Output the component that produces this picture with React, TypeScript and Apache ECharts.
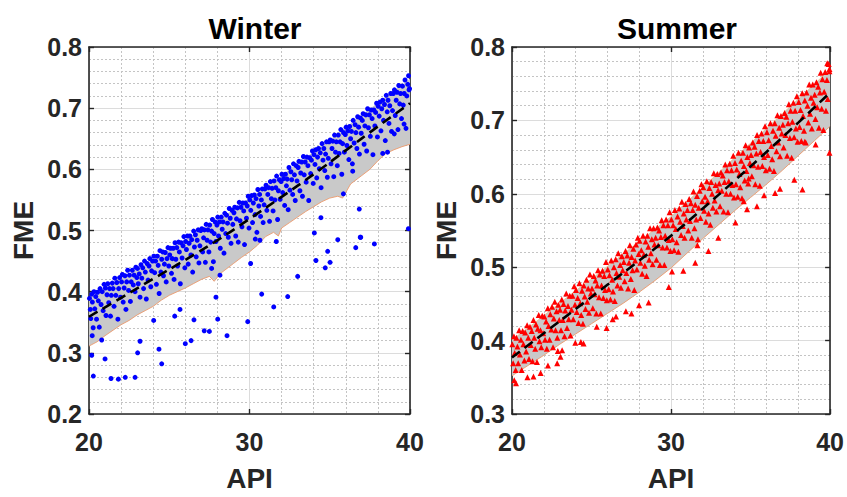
import React, { useEffect, useRef } from "react";
import * as echarts from "echarts";

// ---------- Winter data ----------
const winterPoints: number[][] = [
  [20.03,0.389],[20.08,0.371],[20.11,0.356],[20.17,0.396],[20.21,0.383],[20.26,0.341],[20.31,0.4],[20.36,0.372],[20.42,0.392],[20.47,0.355],[20.53,0.399],[20.58,0.385],[20.64,0.342],[20.69,0.405],[20.75,0.379],[20.82,0.4],[20.88,0.369],[20.94,0.412],
  [21.02,0.406],[21.06,0.361],[21.12,0.395],[21.17,0.413],[21.23,0.382],[21.28,0.405],[21.34,0.36],[21.39,0.394],[21.45,0.414],[21.5,0.405],[21.56,0.376],[21.61,0.422],[21.67,0.394],[21.73,0.415],[21.8,0.355],[21.85,0.405],[21.91,0.423],[21.97,0.391],
  [22.03,0.416],[22.08,0.428],[22.13,0.383],[22.19,0.406],[22.24,0.426],[22.3,0.371],[22.35,0.416],[22.41,0.435],[22.47,0.402],[22.52,0.427],[22.58,0.384],[22.63,0.416],[22.7,0.435],[22.76,0.411],[22.81,0.427],[22.87,0.4],[22.92,0.44],[22.98,0.423],
  [23.02,0.438],[23.07,0.413],[23.13,0.429],[23.18,0.391],[23.24,0.444],[23.29,0.422],[23.35,0.439],[23.4,0.405],[23.46,0.45],[23.51,0.432],[23.57,0.388],[23.62,0.446],[23.68,0.419],[23.74,0.442],[23.79,0.454],[23.85,0.408],[23.9,0.434],[23.96,0.45],
  [24.04,0.458],[24.09,0.431],[24.15,0.45],[24.2,0.412],[24.26,0.458],[24.31,0.443],[24.37,0.397],[24.42,0.467],[24.48,0.432],[24.53,0.453],[24.59,0.465],[24.64,0.426],[24.7,0.445],[24.75,0.464],[24.81,0.416],[24.86,0.454],[24.92,0.472],[24.97,0.442],
  [25.03,0.46],[25.08,0.471],[25.14,0.43],[25.19,0.454],[25.25,0.471],[25.3,0.42],[25.36,0.48],[25.41,0.453],[25.47,0.472],[25.52,0.442],[25.58,0.481],[25.63,0.465],[25.69,0.413],[25.74,0.48],[25.8,0.455],[25.86,0.475],[25.91,0.49],[25.97,0.439],
  [26.02,0.482],[26.07,0.469],[26.13,0.491],[26.18,0.445],[26.24,0.479],[26.29,0.491],[26.35,0.46],[26.4,0.485],[26.46,0.432],[26.52,0.499],[26.57,0.473],[26.63,0.493],[26.68,0.457],[26.74,0.484],[26.8,0.501],[26.85,0.447],[26.91,0.475],[26.96,0.5],
  [27.03,0.503],[27.08,0.465],[27.14,0.488],[27.19,0.501],[27.25,0.448],[27.3,0.51],[27.36,0.484],[27.41,0.501],[27.47,0.465],[27.52,0.509],[27.58,0.481],[27.64,0.499],[27.69,0.518],[27.75,0.449],[27.8,0.495],[27.86,0.514],[27.91,0.482],[27.97,0.509],
  [28.02,0.522],[28.07,0.491],[28.13,0.514],[28.18,0.471],[28.24,0.522],[28.3,0.502],[28.35,0.514],[28.41,0.463],[28.46,0.528],[28.52,0.495],[28.57,0.525],[28.63,0.512],[28.68,0.489],[28.74,0.536],[28.8,0.52],[28.85,0.479],[28.91,0.533],[28.96,0.51],
  [29.03,0.529],[29.08,0.538],[29.14,0.491],[29.19,0.519],[29.25,0.537],[29.3,0.481],[29.36,0.546],[29.41,0.516],[29.47,0.538],[29.53,0.506],[29.58,0.545],[29.64,0.532],[29.69,0.477],[29.75,0.545],[29.81,0.52],[29.86,0.54],[29.92,0.556],[29.97,0.504],
  [30.02,0.55],[30.08,0.533],[30.13,0.557],[30.19,0.513],[30.24,0.545],[30.3,0.558],[30.35,0.526],[30.41,0.552],[30.46,0.497],[30.52,0.567],[30.58,0.54],[30.63,0.559],[30.69,0.523],[30.74,0.55],[30.8,0.568],[30.85,0.513],[30.91,0.542],[30.96,0.568],
  [31.03,0.574],[31.08,0.533],[31.14,0.559],[31.19,0.57],[31.25,0.515],[31.3,0.58],[31.36,0.552],[31.41,0.569],[31.47,0.532],[31.53,0.581],[31.58,0.55],[31.64,0.57],[31.69,0.589],[31.75,0.518],[31.8,0.565],[31.86,0.583],[31.91,0.551],[31.97,0.58],
  [32.02,0.592],[32.07,0.562],[32.13,0.585],[32.19,0.541],[32.24,0.592],[32.3,0.573],[32.35,0.584],[32.41,0.534],[32.46,0.603],[32.52,0.566],[32.58,0.596],[32.63,0.583],[32.69,0.559],[32.74,0.609],[32.8,0.591],[32.85,0.549],[32.91,0.606],[32.96,0.581],
  [33.03,0.603],[33.08,0.613],[33.14,0.565],[33.19,0.594],[33.25,0.612],[33.3,0.556],[33.36,0.621],[33.41,0.591],[33.47,0.612],[33.53,0.579],[33.58,0.62],[33.64,0.606],[33.69,0.549],[33.75,0.619],[33.81,0.593],[33.86,0.615],[33.92,0.63],[33.97,0.577],
  [34.02,0.624],[34.08,0.608],[34.13,0.632],[34.19,0.586],[34.24,0.62],[34.3,0.634],[34.35,0.601],[34.41,0.627],[34.46,0.57],[34.52,0.642],[34.58,0.615],[34.63,0.634],[34.69,0.598],[34.74,0.625],[34.8,0.645],[34.85,0.587],[34.91,0.618],[34.96,0.645],
  [35.03,0.648],[35.08,0.609],[35.14,0.634],[35.19,0.646],[35.25,0.588],[35.3,0.656],[35.36,0.628],[35.41,0.645],[35.47,0.606],[35.53,0.656],[35.58,0.626],[35.64,0.645],[35.69,0.665],[35.75,0.592],[35.8,0.642],[35.86,0.66],[35.91,0.628],[35.97,0.657],
  [36.02,0.669],[36.07,0.639],[36.13,0.663],[36.19,0.616],[36.24,0.67],[36.3,0.65],[36.35,0.662],[36.41,0.609],[36.46,0.68],[36.52,0.643],[36.58,0.673],[36.63,0.66],[36.69,0.634],[36.74,0.686],[36.8,0.669],[36.85,0.625],[36.91,0.684],[36.96,0.659],
  [37.03,0.68],[37.08,0.691],[37.14,0.641],[37.19,0.671],[37.25,0.689],[37.3,0.63],[37.36,0.699],[37.41,0.668],[37.47,0.689],[37.53,0.654],[37.58,0.697],[37.64,0.683],[37.69,0.624],[37.75,0.697],[37.81,0.671],[37.86,0.693],[37.92,0.708],[37.97,0.653],
  [38.02,0.703],[38.08,0.687],[38.13,0.71],[38.19,0.663],[38.24,0.699],[38.3,0.713],[38.35,0.68],[38.41,0.706],[38.46,0.647],[38.52,0.721],[38.58,0.694],[38.63,0.713],[38.69,0.675],[38.74,0.704],[38.8,0.724],[38.85,0.662],[38.91,0.696],[38.96,0.724],
  [39.03,0.73],[39.08,0.688],[39.14,0.713],[39.19,0.726],[39.25,0.665],[39.3,0.737],[39.36,0.707],[39.41,0.724],[39.47,0.683],[39.53,0.736],[39.58,0.705],[39.64,0.724],[39.69,0.746],[39.75,0.667],[39.8,0.72],[39.86,0.739],[39.91,0.753],[39.97,0.732],
  // outliers below the band
  [20.17,0.296],[20.27,0.262],[21.0,0.29],[21.37,0.258],[21.83,0.257],[22.26,0.26],[22.87,0.26],[23.03,0.3],[23.18,0.319],[20.79,0.321],[20.2,0.328],
  [24.03,0.353],[24.36,0.306],[24.53,0.282],[25.34,0.36],[25.67,0.371],[26.0,0.315],[26.36,0.32],[26.54,0.354],[27.18,0.336],[27.5,0.335],
  [27.91,0.391],[28.02,0.355],[28.6,0.328],[29.89,0.351],[30.07,0.446],[30.76,0.396],[31.51,0.375],[32.38,0.392],[33.0,0.425],[34.14,0.451],
  [34.72,0.439],[35.02,0.448],[34.87,0.466],[35.5,0.485],[36.62,0.472],[36.9,0.489],[37.78,0.478],[31.67,0.482],[30.36,0.486],[30.65,0.484],
  [27.64,0.438],[28.16,0.427],[36.84,0.535],[36.43,0.597],[35.85,0.56],[34.45,0.521],[34.04,0.496],[36.93,0.489],[39.9,0.503],[39.63,0.674],
  [39.02,0.658],[38.3,0.626],[38.6,0.628],[39.94,0.73]
];

const winterLineX = [20, 22, 24, 26, 28, 30, 32, 34, 36, 38, 40];
const winterLineY = [0.359, 0.39, 0.421, 0.452, 0.484, 0.519, 0.555, 0.592, 0.631, 0.67, 0.708];

const winterBandX = [20,20.5,21,21.5,22,22.5,23,23.5,24,24.5,25,25.5,26,26.5,27,27.5,27.8,28.2,28.6,29,29.5,30,30.5,31,31.5,31.8,32,32.5,33,33.5,34,34.5,35,35.5,35.8,36.3,37,37.5,38,38.5,39,39.5,40];
const winterBandLower = [0.311,0.318,0.328,0.337,0.346,0.353,0.362,0.369,0.376,0.386,0.394,0.4,0.406,0.413,0.42,0.425,0.417,0.43,0.438,0.446,0.456,0.465,0.476,0.49,0.497,0.491,0.504,0.513,0.522,0.531,0.539,0.547,0.553,0.556,0.553,0.576,0.59,0.6,0.614,0.626,0.632,0.637,0.641];
const winterBandUpper = [0.391,0.399,0.406,0.414,0.422,0.43,0.437,0.445,0.453,0.461,0.469,0.477,0.485,0.493,0.501,0.509,0.514,0.52,0.527,0.535,0.544,0.553,0.562,0.572,0.581,0.586,0.59,0.6,0.61,0.619,0.629,0.639,0.648,0.659,0.665,0.675,0.689,0.699,0.709,0.719,0.729,0.738,0.748];

// ---------- Summer data ----------
const summerPoints: number[][] = [
  [20.02,0.395],[20.07,0.369],[20.12,0.406],[20.17,0.383],[20.23,0.36],[20.28,0.404],[20.34,0.392],[20.39,0.369],[20.45,0.414],[20.5,0.381],[20.56,0.401],[20.61,0.36],[20.67,0.413],[20.72,0.395],[20.78,0.373],[20.83,0.411],[20.89,0.385],[20.95,0.421],
  [21.02,0.404],[21.07,0.375],[21.13,0.419],[21.18,0.394],[21.24,0.413],[21.29,0.372],[21.35,0.428],[21.4,0.404],[21.46,0.389],[21.51,0.422],[21.57,0.371],[21.62,0.416],[21.68,0.435],[21.73,0.399],[21.79,0.414],[21.84,0.391],[21.9,0.434],[21.96,0.41],
  [22.03,0.433],[22.08,0.401],[22.14,0.426],[22.19,0.389],[22.25,0.444],[22.3,0.42],[22.36,0.401],[22.41,0.436],[22.47,0.415],[22.52,0.446],[22.58,0.391],[22.63,0.43],[22.69,0.453],[22.74,0.414],[22.8,0.44],[22.85,0.404],[22.91,0.449],[22.97,0.428],
  [23.02,0.442],[23.08,0.414],[23.13,0.456],[23.19,0.428],[23.24,0.45],[23.3,0.406],[23.35,0.441],[23.41,0.464],[23.46,0.417],[23.52,0.447],[23.57,0.429],[23.63,0.461],[23.68,0.407],[23.74,0.442],[23.8,0.461],[23.85,0.429],[23.91,0.474],[23.96,0.449],
  [24.02,0.469],[24.07,0.439],[24.13,0.458],[24.18,0.424],[24.24,0.478],[24.29,0.451],[24.35,0.435],[24.4,0.468],[24.46,0.423],[24.51,0.475],[24.57,0.46],[24.62,0.443],[24.68,0.483],[24.73,0.453],[24.79,0.471],[24.84,0.438],[24.9,0.49],[24.96,0.464],
  [25.03,0.471],[25.08,0.444],[25.14,0.488],[25.19,0.463],[25.25,0.482],[25.3,0.437],[25.36,0.475],[25.41,0.496],[25.47,0.459],[25.52,0.49],[25.58,0.437],[25.63,0.475],[25.69,0.495],[25.74,0.458],[25.8,0.488],[25.85,0.469],[25.91,0.507],[25.96,0.455],
  [26.02,0.497],[26.08,0.47],[26.13,0.489],[26.19,0.456],[26.24,0.509],[26.3,0.483],[26.35,0.467],[26.41,0.5],[26.46,0.454],[26.52,0.511],[26.57,0.492],[26.63,0.475],[26.68,0.519],[26.74,0.487],[26.8,0.503],[26.85,0.472],[26.91,0.515],[26.96,0.496],
  [27.03,0.507],[27.08,0.481],[27.14,0.522],[27.19,0.492],[27.25,0.516],[27.3,0.471],[27.36,0.506],[27.41,0.53],[27.47,0.484],[27.52,0.514],[27.58,0.496],[27.63,0.525],[27.69,0.469],[27.74,0.509],[27.8,0.531],[27.85,0.497],[27.91,0.54],[27.96,0.518],
  [28.02,0.536],[28.07,0.506],[28.13,0.523],[28.18,0.491],[28.24,0.543],[28.29,0.517],[28.35,0.502],[28.4,0.535],[28.46,0.488],[28.51,0.543],[28.57,0.528],[28.62,0.51],[28.68,0.553],[28.73,0.519],[28.79,0.538],[28.84,0.504],[28.9,0.553],[28.96,0.531],
  [29.03,0.54],[29.08,0.51],[29.14,0.554],[29.19,0.53],[29.25,0.55],[29.3,0.503],[29.36,0.541],[29.41,0.564],[29.47,0.527],[29.52,0.557],[29.58,0.503],[29.63,0.543],[29.69,0.565],[29.74,0.527],[29.8,0.557],[29.85,0.537],[29.91,0.575],[29.96,0.522],
  [30.02,0.565],[30.08,0.538],[30.13,0.557],[30.19,0.523],[30.24,0.578],[30.3,0.552],[30.35,0.534],[30.41,0.569],[30.46,0.521],[30.52,0.58],[30.57,0.562],[30.63,0.544],[30.68,0.589],[30.74,0.556],[30.8,0.573],[30.85,0.54],[30.91,0.586],[30.96,0.565],
  [31.03,0.578],[31.08,0.55],[31.14,0.593],[31.19,0.563],[31.25,0.587],[31.3,0.54],[31.36,0.578],[31.41,0.603],[31.47,0.553],[31.52,0.585],[31.58,0.565],[31.63,0.597],[31.69,0.538],[31.74,0.581],[31.8,0.604],[31.85,0.567],[31.91,0.613],[31.96,0.59],
  [32.03,0.609],[32.08,0.577],[32.14,0.596],[32.19,0.562],[32.25,0.617],[32.3,0.59],[32.36,0.573],[32.41,0.608],[32.47,0.558],[32.52,0.616],[32.58,0.6],[32.63,0.581],[32.69,0.628],[32.74,0.591],[32.8,0.612],[32.85,0.576],[32.91,0.627],[32.96,0.605],
  [33.03,0.614],[33.08,0.583],[33.14,0.629],[33.19,0.604],[33.25,0.625],[33.3,0.576],[33.36,0.616],[33.41,0.64],[33.47,0.6],[33.52,0.632],[33.58,0.575],[33.63,0.617],[33.69,0.641],[33.74,0.6],[33.8,0.632],[33.85,0.612],[33.91,0.652],[33.96,0.595],
  [34.02,0.642],[34.08,0.613],[34.13,0.633],[34.19,0.596],[34.24,0.656],[34.3,0.627],[34.35,0.609],[34.41,0.645],[34.46,0.594],[34.52,0.656],[34.58,0.638],[34.63,0.618],[34.69,0.666],[34.74,0.631],[34.8,0.65],[34.85,0.614],[34.91,0.663],[34.96,0.642],
  [35.03,0.653],[35.08,0.624],[35.14,0.67],[35.19,0.639],[35.25,0.664],[35.3,0.613],[35.36,0.655],[35.41,0.68],[35.47,0.637],[35.52,0.672],[35.58,0.611],[35.63,0.657],[35.69,0.682],[35.74,0.638],[35.8,0.672],[35.85,0.65],[35.91,0.692],[35.96,0.632],
  [36.03,0.684],[36.08,0.653],[36.14,0.673],[36.19,0.634],[36.25,0.696],[36.3,0.665],[36.36,0.647],[36.41,0.686],[36.47,0.631],[36.52,0.696],[36.58,0.679],[36.63,0.658],[36.69,0.707],[36.74,0.67],[36.8,0.69],[36.85,0.651],[36.91,0.706],[36.96,0.682],
  [37.03,0.694],[37.08,0.663],[37.14,0.71],[37.19,0.68],[37.25,0.705],[37.3,0.652],[37.36,0.696],[37.41,0.722],[37.47,0.676],[37.52,0.713],[37.58,0.649],[37.63,0.698],[37.69,0.724],[37.74,0.677],[37.8,0.713],[37.85,0.689],[37.91,0.733],[37.96,0.671],
  [38.03,0.725],[38.08,0.691],[38.14,0.714],[38.19,0.672],[38.25,0.737],[38.3,0.706],[38.36,0.686],[38.41,0.727],[38.47,0.67],[38.52,0.738],[38.58,0.72],[38.63,0.697],[38.69,0.749],[38.74,0.709],[38.8,0.731],[38.85,0.689],[38.91,0.749],[38.96,0.724],
  [39.03,0.735],[39.08,0.702],[39.14,0.752],[39.19,0.718],[39.25,0.746],[39.3,0.69],[39.36,0.738],[39.41,0.765],[39.47,0.716],[39.52,0.756],[39.58,0.687],[39.63,0.739],[39.69,0.766],[39.74,0.713],[39.8,0.755],[39.85,0.729],[39.91,0.777],[39.96,0.767],
  // outliers
  [20.25,0.342],[20.14,0.346],[20.97,0.35],[21.35,0.351],[21.8,0.356],[22.26,0.366],[22.84,0.369],[22.88,0.386],[23.05,0.378],[23.15,0.387],
  [23.98,0.397],[24.33,0.398],[24.5,0.396],[25.33,0.419],[25.95,0.417],[26.33,0.429],[26.54,0.433],[27.16,0.44],[27.51,0.437],[27.99,0.448],
  [28.59,0.452],[29.86,0.473],[30.06,0.494],[30.77,0.495],[31.52,0.506],[31.66,0.53],[32.35,0.522],[32.97,0.54],[34.05,0.561],[35.4,0.583],
  [34.78,0.579],[35.85,0.598],[36.54,0.601],[36.85,0.607],[37.75,0.619],[38.26,0.606],[39.96,0.656],[39.09,0.667],[38.41,0.671],[34.88,0.621],
  [34.57,0.59],[39.82,0.778],[39.96,0.77]
];

const summerLineX = [20, 22, 24, 26, 28, 30, 32, 34, 36, 38, 40];
const summerLineY = [0.377, 0.41, 0.443, 0.476, 0.509, 0.543, 0.58, 0.618, 0.657, 0.697, 0.738];

const summerBandX = [20,21,22,23,24,25,26,27,28,29,30,31,32,33,34,35,36,37,38,39,40];
const summerBandUpper = [0.401,0.417,0.434,0.451,0.468,0.484,0.501,0.518,0.535,0.552,0.569,0.589,0.609,0.629,0.649,0.669,0.689,0.709,0.729,0.749,0.77];
const summerBandLower = [0.352,0.366,0.38,0.395,0.409,0.423,0.437,0.451,0.466,0.482,0.499,0.519,0.539,0.558,0.577,0.595,0.613,0.632,0.652,0.672,0.692];

const FONT = "'Liberation Sans', Arial, Helvetica, sans-serif";
const TXT = "#262626";

function zip(xs: number[], ys: number[]) {
  return xs.map((x, i) => [x, ys[i]]);
}

function axesFor(gridIndex: number, yMin: number) {
  const xBase = { type: "value", gridIndex, min: 20, max: 40, interval: 10 };
  const yBase = { type: "value", gridIndex, min: yMin, max: 0.8, interval: 0.1 };
  const line = { show: true, lineStyle: { color: TXT, width: 1.6 } };
  const tick = { show: true, inside: true, length: 5, lineStyle: { color: TXT, width: 1.4 } };
  const x = [
    {
      ...xBase, position: "bottom",
      axisLine: line, axisTick: tick,
      axisLabel: { color: TXT, fontFamily: FONT, fontWeight: "bold", fontSize: 25, margin: 15 },
      splitLine: { show: true, lineStyle: { color: "#dcdcdc", width: 1 } },
      minorTick: { show: false, splitNumber: 5 },
      minorSplitLine: { show: true, lineStyle: { color: "#c4c4c4", width: 1, type: [2, 2] } },
      name: "API", nameLocation: "middle", nameGap: 50,
      nameTextStyle: { color: TXT, fontFamily: FONT, fontWeight: "bold", fontSize: 28 },
    },
    {
      ...xBase, position: "top",
      axisLine: line, axisTick: tick, axisLabel: { show: false }, splitLine: { show: false },
    },
  ];
  const y = [
    {
      ...yBase, position: "left",
      axisLine: line, axisTick: tick,
      axisLabel: { color: TXT, fontFamily: FONT, fontWeight: "bold", fontSize: 25, margin: 7, formatter: (v: number) => v.toFixed(1) },
      splitLine: { show: true, lineStyle: { color: "#dcdcdc", width: 1 } },
      minorTick: { show: false, splitNumber: 5 },
      minorSplitLine: { show: true, lineStyle: { color: "#c4c4c4", width: 1, type: [2, 2] } },
      name: "FME", nameLocation: "middle", nameGap: 52,
      nameTextStyle: { color: TXT, fontFamily: FONT, fontWeight: "bold", fontSize: 28 },
    },
    {
      ...yBase, position: "right",
      axisLine: line, axisTick: tick, axisLabel: { show: false }, splitLine: { show: false },
    },
  ];
  return { x, y };
}

function panelSeries(
  xi: number, yi: number,
  bandX: number[], lower: number[], upper: number[],
  pts: number[][], symbol: string, color: string, size: number,
  lineX: number[], lineY: number[], upperEdgeColor: string | null
) {
  const bandData = bandX.map((x, i) => [x, lower[i], upper[i]]);
  const s: any[] = [
    {
      type: "custom", coordinateSystem: "cartesian2d", xAxisIndex: xi, yAxisIndex: yi,
      data: bandData, encode: { x: 0, y: [1, 2] }, silent: true, z: 1,
      renderItem: (params: any, api: any) => {
        if (params.dataIndex !== 0) return null;
        const top = bandData.map((d) => api.coord([d[0], d[2]]));
        const bot = bandData.slice().reverse().map((d) => api.coord([d[0], d[1]]));
        return {
          type: "polygon",
          shape: { points: top.concat(bot) },
          style: { fill: "#c9c9c9", stroke: "none" },
        };
      },
    },
    {
      type: "line", xAxisIndex: xi, yAxisIndex: yi, data: zip(bandX, lower), symbol: "none",
      lineStyle: { color: "#ec9a6c", width: 0.9 }, silent: true, z: 2,
    },
  ];
  if (upperEdgeColor) {
    s.push({
      type: "line", xAxisIndex: xi, yAxisIndex: yi, data: zip(bandX, upper), symbol: "none",
      lineStyle: { color: upperEdgeColor, width: 0.9 }, silent: true, z: 2,
    });
  }
  s.push({
    type: "scatter", xAxisIndex: xi, yAxisIndex: yi, data: pts, symbol, symbolSize: size,
    itemStyle: { color, opacity: 1 }, z: 3,
  });
  s.push({
    type: "line", xAxisIndex: xi, yAxisIndex: yi, data: zip(lineX, lineY), symbol: "none", smooth: true,
    lineStyle: { color: "#000000", width: 2.6, type: [10, 6] }, z: 4,
  });
  return s;
}

export default function App() {
  const ref = useRef<HTMLDivElement>(null);
  useEffect(() => {
    if (!ref.current) return;
    const chart = echarts.init(ref.current, null, { renderer: "svg" });
    const a0 = axesFor(0, 0.2);
    const a1 = axesFor(1, 0.3);
    chart.setOption({
      animation: false,
      backgroundColor: "#ffffff",
      title: [
        { text: "Winter", left: 250, top: 8, textAlign: "center",
          textStyle: { color: "#000", fontFamily: FONT, fontWeight: "bold", fontSize: 30 } },
        { text: "Summer", left: 672, top: 8, textAlign: "center",
          textStyle: { color: "#000", fontFamily: FONT, fontWeight: "bold", fontSize: 30 } },
      ],
      grid: [
        { left: 89, top: 47, width: 321, height: 376 },
        { left: 512, top: 47, width: 321, height: 376 },
      ],
      xAxis: [...a0.x, ...a1.x],
      yAxis: [...a0.y, ...a1.y],
      series: [
        ...panelSeries(0, 0, winterBandX, winterBandLower, winterBandUpper,
          winterPoints, "circle", "#0000ff", 5, winterLineX, winterLineY, null),
        ...panelSeries(2, 2, summerBandX, summerBandLower, summerBandUpper,
          summerPoints, "triangle", "#ff0000", 6, summerLineX, summerLineY, "#e8c58e"),
      ],
    });
    return () => chart.dispose();
  }, []);
  return (
    <div
      ref={ref}
      style={{ position: "fixed", left: 0, top: 0, width: 847, height: 497, background: "#fff" }}
    />
  );
}
